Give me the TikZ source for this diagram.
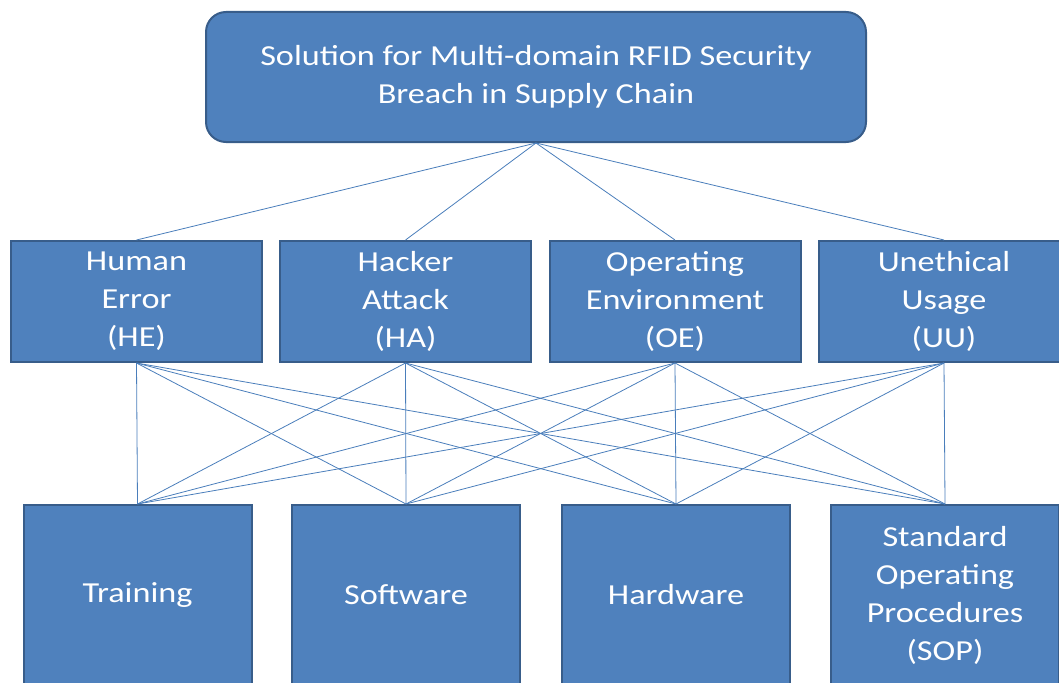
\documentclass[tikz,border=0pt]{standalone}
\usepackage{fontspec}
\setmainfont{Carlito}[FakeStretch=1.18]
\definecolor{boxfill}{HTML}{4F81BD}
\definecolor{boxline}{HTML}{385D8A}
\definecolor{linkcol}{HTML}{4A7EBB}
\begin{document}
\begin{tikzpicture}[x=1pt,y=-1pt,
  box/.style={draw=boxline,line width=2pt,fill=boxfill,text=white,align=center,
    inner sep=0pt,font=\fontsize{29}{38}\selectfont},
  mid/.style={box,minimum width=251pt,minimum height=121pt},
  low/.style={box,minimum width=228pt,minimum height=180pt},
  link/.style={draw=linkcol,line width=0.8pt}]
\useasboundingbox (0,0) rectangle (1059,682);
\clip (0,0) rectangle (1059,682);
\node[box,rounded corners=20pt,minimum width=660pt,minimum height=130pt] (top) at (536,77)
  {Solution for Multi-domain RFID Security\\Breach in Supply Chain};
\node[mid] (HE) at (136.5,301.5) {Human\\Error\\(HE)};
\node[mid] (HA) at (405.5,301.5) {Hacker\\Attack\\(HA)};
\node[mid] (OE) at (675,301.5) {Operating\\Environment\\(OE)};
\node[mid] (UU) at (944,301.5) {Unethical\\Usage\\(UU)};
\node[low] (TR) at (137.5,595) {Training};
\node[low] (SW) at (406,595) {Software};
\node[low] (HW) at (676,595) {Hardware};
\node[low] (SOP) at (945,595) {Standard\\Operating\\Procedures\\(SOP)};
\foreach \m in {HE,HA,OE,UU}{
  \draw[link] (top.south) -- (\m.north);
  \foreach \b in {TR,SW,HW,SOP}{
    \draw[link] (\m.south) -- (\b.north);
  }
}
\end{tikzpicture}
\end{document}
